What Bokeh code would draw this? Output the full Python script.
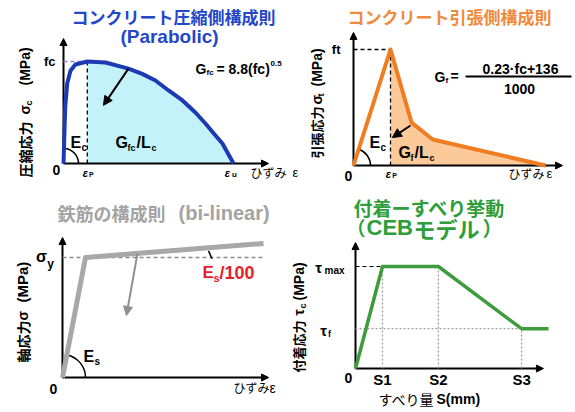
import math
from bokeh.plotting import figure
from bokeh.models import Range1d, Label, Arrow, NormalHead
from bokeh.core.properties import value
from bokeh.embed import file_html
from bokeh.resources import INLINE

# ---------------- data (normalised) ----------------
# concrete in compression (parabolic): strain / eps_u, stress / fc
comp_eps = [0.0, 0.01, 0.022, 0.041, 0.07, 0.14, 0.247, 0.382, 0.463, 0.541, 0.618, 0.7,
            0.776, 0.835, 0.894, 0.935, 1.0]
comp_sig = [0.0, 0.55, 0.787, 0.91, 0.97, 1.0, 0.99, 0.93, 0.879, 0.814, 0.716, 0.618,
            0.5, 0.392, 0.275, 0.196, 0.0]
comp_peak = 5
# concrete in tension: strain / eps_p, stress / ft
ten_eps = [0.0, 1.0, 1.57, 2.14, 5.19]
ten_sig = [0.0, 1.0, 0.37, 0.224, 0.0]
ten_peak = 1
# steel bi-linear: strain / eps_y, stress / sigma_y
steel_eps = [0.0, 1.0, 8.74]
steel_sig = [0.0, 1.0, 1.117]
# bond-slip (CEB): slip / S1, stress / tau_max
slip_s = [0.0, 1.0, 3.07, 6.15, 7.15]
slip_tau = [0.0, 1.0, 1.0, 0.39, 0.39]
slip_labels = ["S1", "S2", "S3"]

# ---------------- styles ----------------
LAT = "Liberation Sans"
CJK = "Noto Sans CJK JP"
BLUE_T, BLUE_L, FILL_C = "#2446c8", "#1c3ab4", "#c4f2fb"
ORANGE_T, ORANGE_L, FILL_T = "#f08a3c", "#f07d22", "#fcc99a"
GRAY_T, GRAY_L = "#a3a3a3", "#a8a8a8"
RED = "#e5202a"
GREEN_T, GREEN_L = "#2e9e3a", "#3d9c3d"

W, H, M = 575, 412, 0
p = figure(width=W, height=H, x_range=Range1d(M, W + M), y_range=Range1d(H + M, M),
           output_backend="svg", toolbar_location=None, min_border=0,
           x_axis_type=None, y_axis_type=None, title=None)
p.outline_line_color = None
p.background_fill_color = "white"
p.border_fill_color = "white"

# panel placement: origin in page pixels and pixels per unit
panels = {"c": (63, 163, 170, 102), "t": (353, 165, 37, 116),
          "s": (62, 377, 23, 120), "b": (355, 368, 27, 102)}
xr, yr = {}, {}
for k, (ox, oy, kx, ky) in panels.items():
    o = ox - M
    xr[k] = Range1d(-o / kx, (W - o) / kx)
    ob = H - (oy - M)
    yr[k] = Range1d(-ob / ky, (H - ob) / ky)
p.extra_x_ranges = xr
p.extra_y_ranges = yr


def R(k):
    return dict(x_range_name=k, y_range_name=k)


def axes(k, xtip, ytip):
    for xe, ye in [(xtip, 0), (0, ytip)]:
        p.add_layout(Arrow(end=NormalHead(size=7, fill_color="black", line_color="black", line_width=1),
                           x_start=0, y_start=0, x_end=xe, y_end=ye, line_color="black",
                           line_width=2, level="underlay", **R(k)))


def pointer(k, x0, y0, x1, y1, color="black"):
    p.add_layout(Arrow(end=NormalHead(size=9, fill_color=color, line_color=color, line_width=1),
                       x_start=x0, y_start=y0, x_end=x1, y_end=y1, line_color=color,
                       line_width=2, **R(k)))


def lab(x, y, s, size, color="black", font=LAT, style="bold", align="left", angle=0.0):
    p.add_layout(Label(x=x, y=y, text=s, text_font=font, text_font_size=f"{size}px",
                       text_font_style=style, text_color=color, text_align=align,
                       text_baseline="middle", angle=angle))


def dtext(k, xs, ys, texts, size, dx=0, dy=0, align="center", font=LAT, style="bold", color="black"):
    p.text(x=xs, y=ys, text=texts, x_offset=dx, y_offset=dy, text_font=value(font),
           text_font_size=f"{size}px", text_font_style=style, text_align=align,
           text_baseline="middle", text_color=color, **R(k))


A = math.pi / 2

# ================= panel 1: compression =================
pk = comp_peak
p.varea(x=comp_eps[pk:], y1=[0] * len(comp_eps[pk:]), y2=comp_sig[pk:], fill_color=FILL_C,
        level="image", **R("c"))
axes("c", 1.206, 1.225)
p.line([0, comp_eps[pk]], [comp_sig[pk]] * 2, line_color="#a07cc8", line_dash="4 3", line_width=1.5, **R("c"))
p.line([comp_eps[pk]] * 2, [0, comp_sig[pk]], line_color="black", line_dash="4 3", line_width=1.3, **R("c"))
p.arc(x=[0], y=[0], radius=15, radius_units="screen", start_angle=0, end_angle=1.45,
      line_color="black", line_width=1.5, **R("c"))
p.line(comp_eps, comp_sig, line_color=BLUE_L, line_width=4, line_join="round", **R("c"))
pointer("c", 0.382, 0.93, 0.235, 0.57)
dtext("c", [0], [comp_sig[pk]], ["fc"], 13, dx=-8, align="right")
dtext("c", [0], [0], ["0"], 14, dx=-7, dy=6)
dtext("c", [comp_eps[pk]], [0], ["ε"], 11, dx=-2, dy=9, style="bold italic")
dtext("c", [comp_eps[pk]], [0], ["P"], 7, dx=4, dy=11)
dtext("c", [comp_eps[-1]], [0], ["ε"], 11, dx=-6, dy=9, style="bold italic")
dtext("c", [comp_eps[-1]], [0], ["u"], 8, dx=1, dy=11)

lab(173, 16, "コンクリート圧縮側構成則", 17, BLUE_T, CJK, align="center")
lab(169, 36, "(Parabolic)", 19, BLUE_T, align="center")
lab(195, 68, "G", 14)
lab(206, 72, "fc", 8)
lab(216, 68, "= 8.8(fc)", 14)
lab(270, 63, "0.5", 8)
lab(70, 142, "E", 16)
lab(81, 147, "c", 10)
lab(115, 142, "G", 16)
lab(127, 147, "fc", 9)
lab(136, 142, "/L", 16)
lab(151, 147, "c", 9)
lab(250, 172, "ひずみ", 12, font=CJK, style="normal")
lab(292, 172, "ε", 13, style="normal")
lab(24, 177, "圧縮応力", 14, font=CJK, angle=A)
lab(24, 114, "σ", 14, angle=A)
lab(28, 105, "c", 9, angle=A)
lab(24, 85, "(MPa)", 14, angle=A)

# ================= panel 2: tension =================
tp = ten_peak
p.varea(x=ten_eps[tp:], y1=[0] * len(ten_eps[tp:]), y2=ten_sig[tp:], fill_color=FILL_T,
        level="image", **R("t"))
axes("t", 5.65, 1.147)
p.line([0, ten_eps[tp]], [ten_sig[tp]] * 2, line_color="black", line_dash="4 3", line_width=1.3, **R("t"))
p.line([ten_eps[tp]] * 2, [0, ten_sig[tp]], line_color="black", line_dash="4 3", line_width=1.3, **R("t"))
p.arc(x=[0], y=[0], radius=17, radius_units="screen", start_angle=0, end_angle=1.26,
      line_color="black", line_width=1.5, **R("t"))
p.line(ten_eps, ten_sig, line_color=ORANGE_L, line_width=4, line_join="round", **R("t"))
pointer("t", 1.54, 0.345, 1.05, 0.241)
dtext("t", [0], [ten_sig[tp]], ["ft"], 13, dx=-13, align="right")
dtext("t", [0], [0], ["0"], 14, dx=-5, dy=10)
dtext("t", [ten_eps[tp]], [0], ["ε"], 11, dx=-2, dy=8, style="bold italic")
dtext("t", [ten_eps[tp]], [0], ["P"], 7, dx=4, dy=10)

lab(449, 16, "コンクリート引張側構成則", 17, ORANGE_T, CJK, align="center")
lab(434, 76, "G", 14)
lab(445, 80, "f", 8)
lab(450, 75, "=", 14)
lab(520, 68, "0.23·fc+136", 14, align="center")
p.segment(x0=[465], y0=[76], x1=[571], y1=[76], line_color="black", line_width=2)
lab(519, 88, "1000", 14, align="center")
lab(369, 142, "E", 16)
lab(380, 147, "c", 10)
lab(398, 152, "G", 16)
lab(410, 157, "f", 9)
lab(414, 152, "/L", 16)
lab(429, 157, "c", 9)
lab(508, 173, "ひずみ", 12, font=CJK, style="normal")
lab(546, 173, "ε", 13, style="normal")
lab(316, 158, "引張応力", 13, font=CJK, angle=A)
lab(316, 104, "σ", 14, angle=A)
lab(320, 96, "t", 9, angle=A)
lab(316, 86, "(MPa)", 14, angle=A)

# ================= panel 3: steel =================
axes("s", 8.96, 1.167)
p.line([0, steel_eps[-1]], [steel_sig[1]] * 2, line_color="#8c8c8c", line_dash="4 3", line_width=1.5, **R("s"))
p.arc(x=[0], y=[0], radius=23, radius_units="screen", start_angle=0, end_angle=1.38,
      line_color="black", line_width=1.5, **R("s"))
p.line(steel_eps, steel_sig, line_color=GRAY_L, line_width=5, line_join="round", **R("s"))
p.segment(x0=[6.35], y0=[1.055], x1=[6.5], y1=[0.99], line_color="black", line_width=1.5, **R("s"))
pointer("s", 3.26, 1.033, 2.78, 0.517, color="#909090")
dtext("s", [0], [steel_sig[1]], ["σ"], 16, dx=-21, dy=-1)
dtext("s", [0], [steel_sig[1]], ["y"], 12, dx=-12, dy=6)
dtext("s", [0], [0], ["0"], 14, dx=-9, dy=11)

lab(57, 212, "鉄筋の構成則", 18, GRAY_T, CJK)
lab(178, 212, "(bi-linear)", 20, GRAY_T)
lab(202, 272, "E", 17, RED)
lab(213, 277, "s", 11, RED)
lab(219, 272, "/100", 18, RED)
lab(83, 356, "E", 16)
lab(94, 361, "s", 10)
lab(233, 387, "ひずみ", 12, font=CJK, style="normal")
lab(269, 387, "ε", 14, style="normal")
lab(22, 362, "軸応力", 14, font=CJK, angle=A)
lab(22, 320, "σ", 14, angle=A)
lab(22, 302, "(MPa)", 15, angle=A)

# ================= panel 4: bond-slip =================
axes("b", 6.96, 1.235)
dot = dict(line_color="#9a9a9a", line_dash="2 2", line_width=1.2, **R("b"))
p.line([0, slip_s[1]], [slip_tau[1]] * 2, line_color="black", line_dash="4 3", line_width=1.2, **R("b"))
p.line([0, slip_s[3]], [slip_tau[3]] * 2, **dot)
for i in (1, 2, 3):
    p.line([slip_s[i]] * 2, [0, slip_tau[i]], **dot)
p.line(slip_s, slip_tau, line_color=GREEN_L, line_width=3.5, line_join="round", **R("b"))
dtext("b", [0], [slip_tau[1]], ["τ"], 15, dx=-37, dy=1)
dtext("b", [0], [slip_tau[1]], ["max"], 10, dx=-31, dy=4, align="left")
dtext("b", [0], [slip_tau[3]], ["τ"], 15, dx=-32, dy=2)
dtext("b", [0], [slip_tau[3]], ["f"], 9, dx=-26, dy=5)
dtext("b", [0], [0], ["0"], 14, dx=-7, dy=9)
dtext("b", slip_s[1:4], [0, 0, 0], slip_labels, 15, dy=11)

lab(353, 207, "付着ーすべり挙動", 19, GREEN_T, CJK)
lab(346, 227, "（", 19, GREEN_T, CJK)
lab(366, 227, "CEB", 22, GREEN_T)
lab(413, 227, "モデル", 22, GREEN_T, CJK)
lab(482, 227, "）", 20, GREEN_T, CJK)
lab(378, 398, "すべり量", 14, font=CJK, style="normal")
lab(436, 398, "S(mm)", 14)
lab(298, 372, "付着応力", 13, font=CJK, angle=A)
lab(298, 315, "τ", 14, angle=A)
lab(302, 308, "c", 9, angle=A)
lab(298, 300, "(MPa)", 14, angle=A)

open("out.html", "w").write(file_html(p, INLINE))
